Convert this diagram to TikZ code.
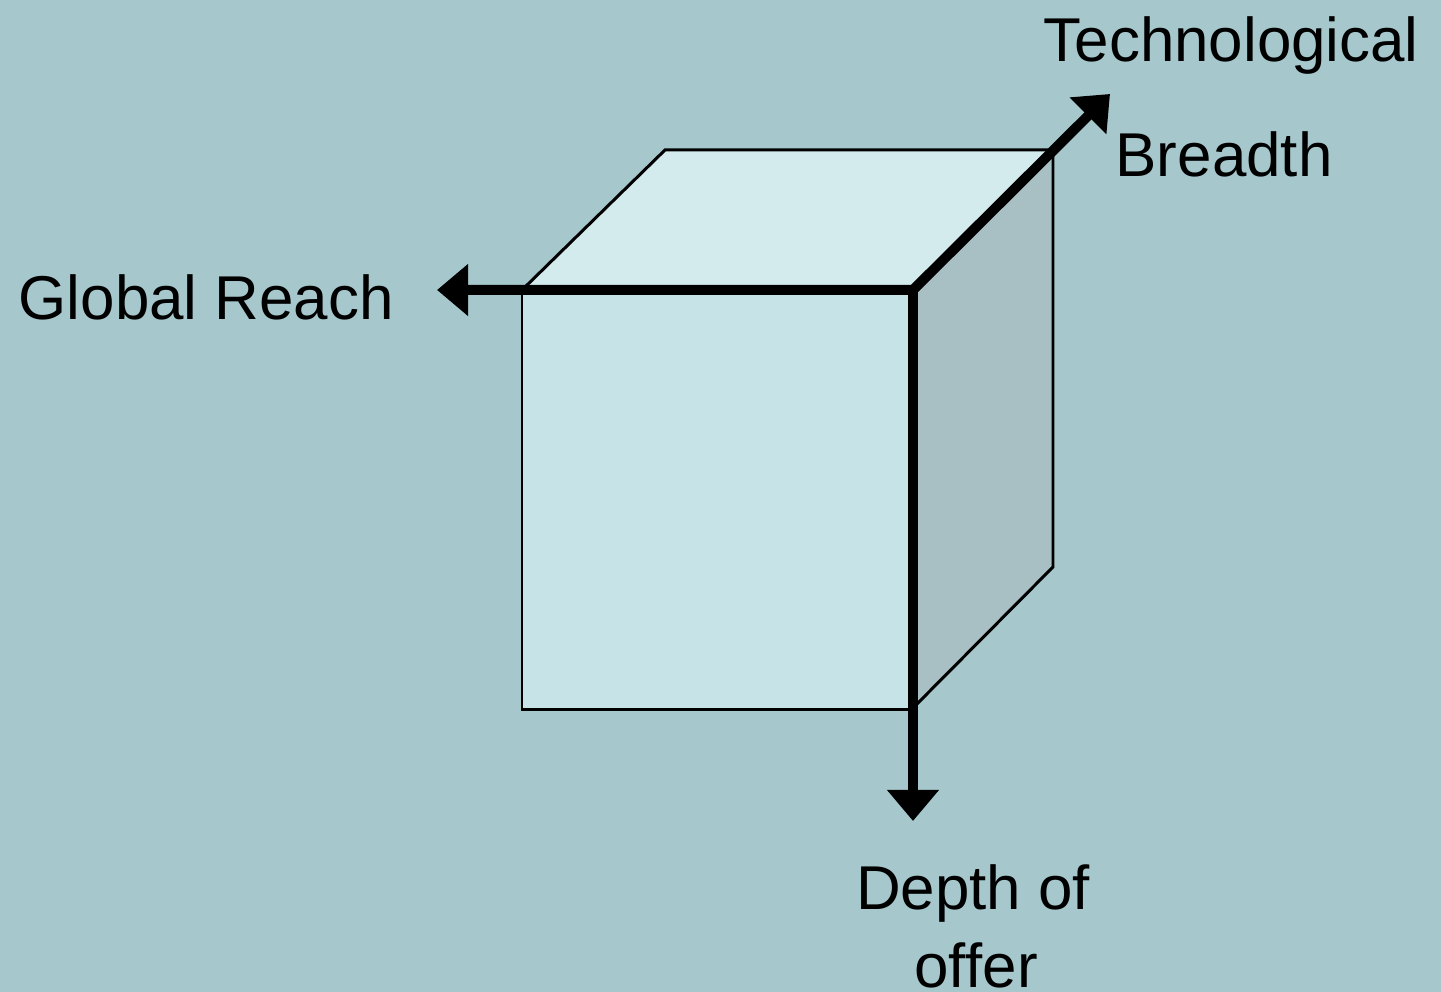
\documentclass[tikz,border=0pt]{standalone}
\usepackage{fontspec}
\setmainfont[Ligatures=NoCommon]{Liberation Sans}
\usetikzlibrary{arrows.meta}
\definecolor{bgc}{RGB}{166,200,205}
\definecolor{frontc}{RGB}{198,228,232}
\definecolor{topc}{RGB}{211,235,236}
\definecolor{rightc}{RGB}{168,191,196}
\tikzset{
  edge/.style={draw=black,line width=0.85pt,line join=miter},
  axis/.style={draw=black,line width=0.1cm,line join=miter},
  lbl/.style={inner sep=0pt,anchor=base west,font=\fontsize{17.6}{21}\selectfont},
  lblc/.style={inner sep=0pt,anchor=base,font=\fontsize{17.6}{21}\selectfont}
}
\begin{document}
\begin{tikzpicture}[x=0.01cm,y=-0.01cm]
\fill[bgc] (0,0) rectangle (1441,992);
\useasboundingbox (0,0) rectangle (1441,992);
% cube corners
\coordinate (O) at (913,290);
\coordinate (FL) at (522,290);
\coordinate (FBL) at (522,710);
\coordinate (FBR) at (913,710);
\coordinate (BL) at (665,150);
\coordinate (BR) at (1053,150);
\coordinate (RB) at (1053,567);
\coordinate (RBL) at (913,708);
% axis tips
\coordinate (gr) at (437,290);
\coordinate (tb) at (1110,94);
\coordinate (dp) at (913,821);
% faces
\path[edge,fill=frontc] (FL) -- (O) -- (FBR) -- (FBL) -- cycle;
\path[edge,fill=topc] (FL) -- (BL) -- (BR) -- (O) -- cycle;
\path[edge,fill=rightc] (O) -- (BR) -- (RB) -- (RBL) -- cycle;
% axes
\draw[axis,{Triangle[length=0.31cm,width=0.5cm]}-{Triangle[length=0.31cm,width=0.5cm]}] (gr) -- (O) -- (tb);
\draw[axis,-{Triangle[length=0.31cm,width=0.5cm]}] ([yshift=0.05cm]O) -- (dp);
% labels
\node[lbl] (t1) at (1043,62) {Technological};
\node[lbl] (t2) at (1115,177) {Breadth};
\node[lbl] (t3) at (18,320) {Global Reach};
\node[lblc] (t4) at (973,910) {Depth of};
\node[lblc] (t5) at (976,988) {of\kern0ptfer};
\end{tikzpicture}
\end{document}
